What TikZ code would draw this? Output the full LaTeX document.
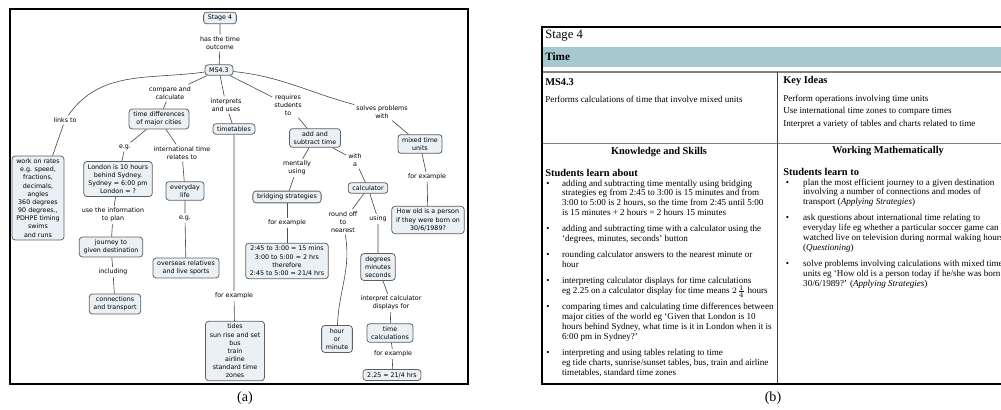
\documentclass[tikz,border=0pt]{standalone}
\usepackage{fontspec}
\setmainfont{Liberation Serif}
\newfontfamily\mapfont{DejaVu Sans}
\usetikzlibrary{positioning}

\definecolor{cmapfill}{HTML}{EAF0F4}
\definecolor{cmapline}{HTML}{5B6066}
\definecolor{linkgrey}{HTML}{4D4D4D}
\definecolor{bandteal}{HTML}{A6C9D0}
\definecolor{rulegrey}{HTML}{808080}

\newcommand{\mapsize}{\mapfont\fontsize{4.5}{5.8}\selectfont}
\newcommand{\docsize}{\fontsize{6.45}{7.09}\selectfont}

\begin{document}
\begin{tikzpicture}[x=0.025cm, y=-0.025cm]
    \tikzstyle{concept} = [rectangle, draw=cmapline, fill=cmapfill, rounded corners=2.2pt, align=center, font=\mapsize, inner xsep=3pt, inner ysep=2pt, line width=0.55pt]
    \tikzstyle{phrase} = [align=center, font=\mapsize, inner sep=1.3pt]
    \tikzstyle{link} = [draw=linkgrey, line width=0.45pt]
    \tikzstyle{frame} = [line width=1.4pt]
    \tikzstyle{heading} = [anchor=base west, inner sep=0pt, font=\bfseries\fontsize{7.4}{8}\selectfont]
    \tikzstyle{body} = [anchor=base west, inner sep=0pt, font=\docsize]

    \useasboundingbox (0,0) rectangle (1001,409);

    % (a) concept map
    \draw[frame] (10,9) rectangle (468,384);

    \node[concept] (stage) at (220,18) {Stage 4};
    \node[concept] (ms) at (219,70) {MS4.3};
    \node[concept] (rates) at (38,198) {work on rates\\e.g. speed,\\fractions,\\decimals,\\angles\\360 degrees\\90 degrees.,\\PDHPE timing\\swims\\and runs};
    \node[concept] (tdiff) at (159,119) {time differences\\of major cities};
    \node[concept] (london) at (118,179) {London is 10 hours\\behind Sydney.\\Sydney = 6:00 pm\\London = ?};
    \node[concept] (everyday) at (185,191) {everyday\\life};
    \node[concept] (overseas) at (186,268) {overseas relatives\\and live sports};
    \node[concept] (journey) at (111,247) {journey to\\given destination};
    \node[concept] (connect) at (115,304) {connections\\and transport};
    \node[concept] (timetab) at (234,129) {timetables};
    \node[concept] (tides) at (235,351) {tides\\sun rise and set\\bus\\train\\airline\\standard time\\zones};
    \node[concept] (addsub) at (315,138) {add and\\subtract time};
    \node[concept] (bridge) at (287,197) {bridging strategies};
    \node[concept] (bridgeeg) at (287,261) {2:45 to 3:00 = 15 mins\\3:00 to 5:00 = 2 hrs\\therefore\\2:45 to 5:00 = 21/4 hrs};
    \node[concept] (calc) at (368,188) {calculator};
    \node[concept] (degrees) at (378,267) {degrees\\minutes\\seconds};
    \node[concept] (timecalc) at (390,333) {time\\calculations};
    \node[concept] (calceg) at (392,375) {2.25 = 21/4 hrs};
    \node[concept] (hourmin) at (337,339) {hour\\or\\minute};
    \node[concept] (mixed) at (420,144) {mixed time\\units};
    \node[concept] (howold) at (428,220) {How old is a person\\if they were born on\\30/6/1989?};

    \node[phrase] (lhas) at (220,43) {has the time\\outcome};
    \node[phrase] (llinks) at (65,120) {links to};
    \node[phrase] (lcompare) at (170,93) {compare and\\calculate};
    \node[phrase] (legcity) at (125,147) {e.g.};
    \node[phrase] (lintl) at (182,153) {international time\\relates to};
    \node[phrase] (leglife) at (185,218) {e.g.};
    \node[phrase] (luse) at (113,215) {use the information\\to plan};
    \node[phrase] (lincl) at (113,272) {including};
    \node[phrase] (linterp) at (226,105) {interprets\\and uses};
    \node[phrase] (lextab) at (234,296) {for example};
    \node[phrase] (lrequires) at (288,105) {requires\\students\\to};
    \node[phrase] (lmentally) at (297,168) {mentally\\using};
    \node[phrase] (lexbridge) at (287,223) {for example};
    \node[phrase] (lwith) at (355,160) {with\\a};
    \node[phrase] (lround) at (343,222) {round off\\to\\nearest};
    \node[phrase] (lusing) at (378,219) {using};
    \node[phrase] (linterpcalc) at (391,303) {interpret calculator\\displays for};
    \node[phrase] (lexcalc) at (393,354) {for example};
    \node[phrase] (lsolves) at (382,112) {solves problems\\with};
    \node[phrase] (lexmixed) at (427,177) {for example};

    \draw[link] (stage) -- (lhas) (lhas) -- (ms);
    \draw[link] (ms) to[out=188, in=55] (llinks);
    \draw[link] (llinks) -- (rates);
    \draw[link] (ms) -- (lcompare) (lcompare) -- (tdiff);
    \draw[link] (tdiff) -- (legcity) (legcity) -- (london);
    \draw[link] (tdiff) -- (lintl) (lintl) -- (everyday);
    \draw[link] (everyday) -- (leglife) (leglife) -- (overseas);
    \draw[link] (london) -- (luse) (luse) -- (journey);
    \draw[link] (journey) -- (lincl) (lincl) -- (connect);
    \draw[link] (ms) -- (linterp) (linterp) -- (timetab);
    \draw[link] (timetab) -- (lextab) (lextab) -- (tides);
    \draw[link] (ms) -- (lrequires) (lrequires) -- (addsub);
    \draw[link] (addsub) -- (lmentally) (lmentally) -- (bridge);
    \draw[link] (bridge) -- (lexbridge) (lexbridge) -- (bridgeeg);
    \draw[link] (addsub) -- (lwith) (lwith) -- (calc);
    \draw[link] (calc) -- (lround);
    \draw[link] (lround) to[out=-80, in=88] (hourmin);
    \draw[link] (calc) -- (lusing) (lusing) -- (degrees);
    \draw[link] (degrees) -- (linterpcalc) (linterpcalc) -- (timecalc);
    \draw[link] (timecalc) -- (lexcalc) (lexcalc) -- (calceg);
    \draw[link] (ms) to[out=-6, in=165] (lsolves);
    \draw[link] (lsolves) -- (mixed);
    \draw[link] (mixed) -- (lexmixed) (lexmixed) -- (howold);

    \node[font=\fontsize{10}{12}\selectfont] (capa) at (245,398) {(a)};

    % (b) syllabus page
    \begin{scope}
    \clip (538,0) rectangle (1001,409);
    \fill[bandteal] (543,47) rectangle (1001,67);
    \draw[rulegrey, line width=0.8pt] (543,72) -- (1001,72);
    \draw[rulegrey, line width=0.6pt] (543,143) -- (1001,143);
    \draw[black!75, line width=0.5pt] (777,72) -- (777,384);
    \draw[frame] (1003,27) -- (542,27) -- (542,384) -- (1003,384);

    \node[anchor=base west, inner sep=0pt, font=\fontsize{9}{10}\selectfont] (pstage) at (545,38) {Stage 4};
    \node[heading, font=\bfseries\fontsize{8}{9}\selectfont] (ptime) at (545,60) {Time};
    \node[heading] (pms) at (545,85) {MS4.3};
    \node[body] (pperf) at (545,102) {Performs calculations of time that involve mixed units};
    \node[heading] (pkey) at (783,83) {Key Ideas};
    \node[body] (pkeya) at (783,101) {Perform operations involving time units};
    \node[body] (pkeyb) at (783,113.5) {Use international time zones to compare times};
    \node[body] (pkeyc) at (783,126) {Interpret a variety of tables and charts related to time};

    \node[heading, anchor=base] (pks) at (659,154) {Knowledge and Skills};
    \node[heading, anchor=base] (pwm) at (888,153) {Working Mathematically};
    \node[heading] (pabout) at (545,176) {Students learn about};
    \node[heading] (plearn) at (783,175) {Students learn to};

    \node[body] (plistks) at (546,186) {\begin{tabular}[t]{@{}p{11.3pt}@{}l@{}}
        \textbullet & adding and subtracting time mentally using bridging\\
        & strategies eg from 2:45 to 3:00 is 15 minutes and from\\
        & 3:00 to 5:00 is 2 hours, so the time from 2:45 until 5:00\\
        & is 15 minutes + 2 hours = 2 hours 15 minutes\\[4.2pt]
        \textbullet & adding and subtracting time with a calculator using the\\
        & `degrees, minutes, seconds' button\\[4.2pt]
        \textbullet & rounding calculator answers to the nearest minute or\\
        & hour\\[4.2pt]
        \textbullet & interpreting calculator displays for time calculations\\
        & eg 2.25 on a calculator display for time means $2\smash{\frac{1}{4}}$ hours\\[4.2pt]
        \textbullet & comparing times and calculating time differences between\\
        & major cities of the world eg `Given that London is 10\\
        & hours behind Sydney, what time is it in London when it is\\
        & 6:00 pm in Sydney?'\\[4.2pt]
        \textbullet & interpreting and using tables relating to time\\
        & eg tide charts, sunrise/sunset tables, bus, train and airline\\
        & timetables, standard time zones
    \end{tabular}};
    \node[body] (plistwm) at (785.5,185) {\begin{tabular}[t]{@{}p{12.4pt}@{}l@{}}
        \textbullet & plan the most efficient journey to a given destination\\
        & involving a number of connections and modes of\\
        & transport (\textit{Applying Strategies})\\[4.2pt]
        \textbullet & ask questions about international time relating to\\
        & everyday life eg whether a particular soccer game can be\\
        & watched live on television during normal waking hours\\
        & (\textit{Questioning})\\[4.2pt]
        \textbullet & solve problems involving calculations with mixed time\\
        & units eg `How old is a person today if he/she was born on\\
        & 30/6/1989?' (\textit{Applying Strategies})
    \end{tabular}};
    \end{scope}

    \node[font=\fontsize{10}{12}\selectfont] (capb) at (773,398) {(b)};
\end{tikzpicture}
\end{document}
